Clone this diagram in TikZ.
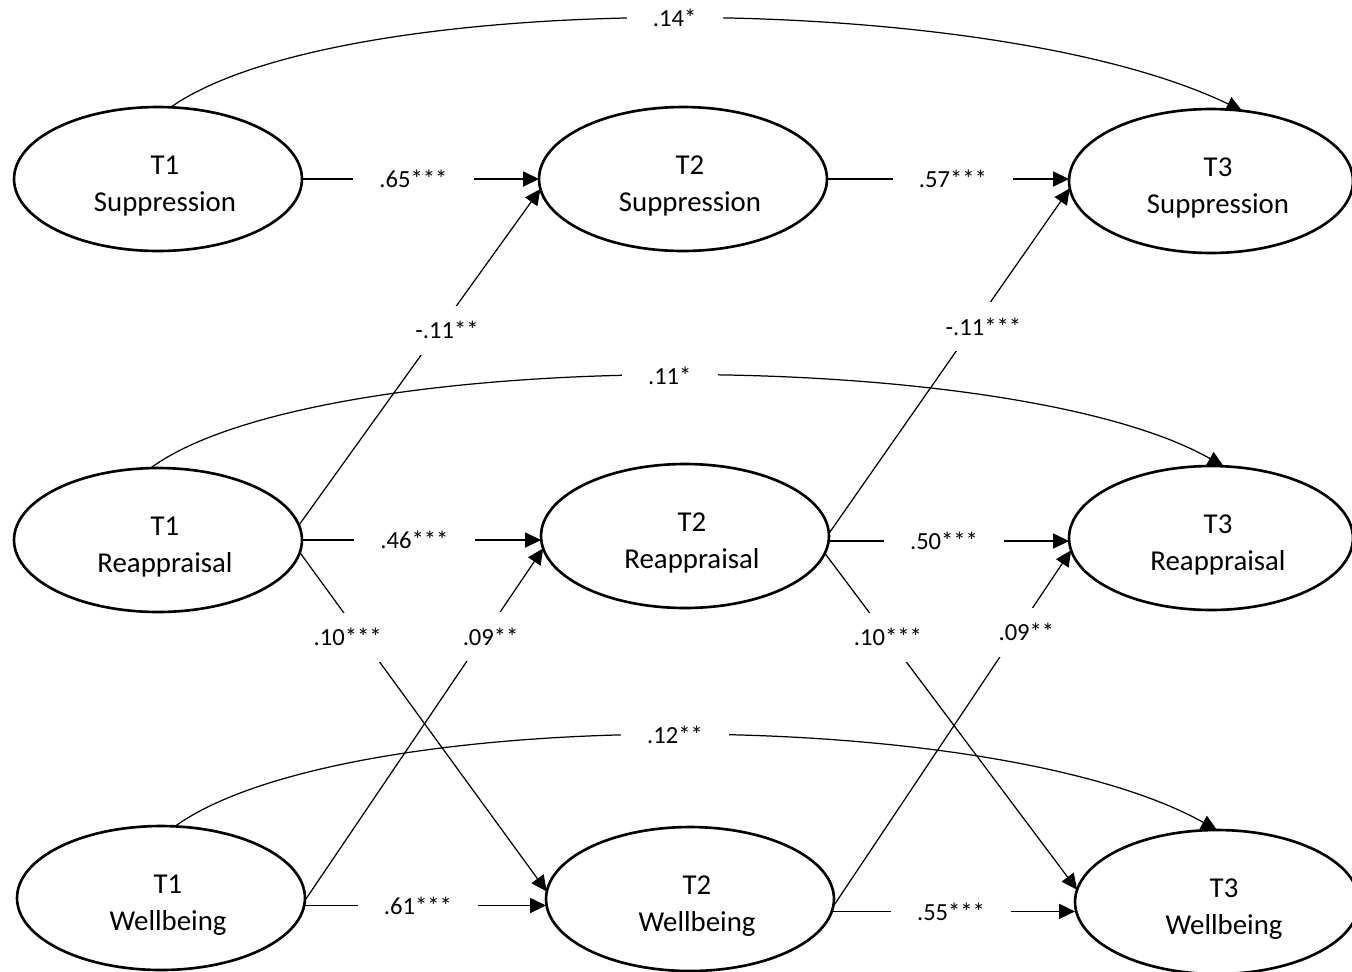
\documentclass[tikz,border=0pt]{standalone}
\usepackage{fontspec}
\setmainfont{Carlito}
\usetikzlibrary{arrows.meta,shapes.geometric}
\newcommand\twoline[2]{\hspace*{8pt}\raisebox{-8pt}[0pt][0pt]{\begin{tabular}{@{}c@{}}#1\\#2\end{tabular}}}
\tikzset{
  lat/.style={ellipse, draw, line width=1.5pt, minimum width=5.76cm, minimum height=2.88cm,
    inner sep=0pt, outer sep=0pt, font=\fontsize{16.4}{21}\selectfont},
  latc/.style={lat, minimum width=5.68cm},
  conn/.style={line width=0.7pt, -{Triangle[length=9pt,width=8.5pt]}},
  coef/.style={fill=white, font=\fontsize{14}{16}\selectfont, inner xsep=15pt, inner ysep=9pt}
}
\begin{document}
\begin{tikzpicture}[x=0.02cm, y=-0.02cm]
\useasboundingbox (0,0) rectangle (1352,971);
% latent variables
\node[lat]  (s1) at (158,179) {\twoline{T1}{Suppression}};
\node[lat]  (s2) at (683,179) {\twoline{T2}{Suppression}};
\node[latc] (s3) at (1211,181) {\twoline{T3}{Suppression}};
\node[lat]  (r1) at (158,540) {\twoline{T1}{Reappraisal}};
\node[lat]  (r2) at (685,536) {\twoline{T2}{Reappraisal}};
\node[latc] (r3) at (1211,538) {\twoline{T3}{Reappraisal}};
\node[lat]  (w1) at (161,898) {\twoline{T1}{Wellbeing}};
\node[lat]  (w2) at (690,899) {\twoline{T2}{Wellbeing}};
\node[latc] (w3) at (1217,902) {\twoline{T3}{Wellbeing}};
% T1 -> T3 curved paths
\draw[conn] (s1.80) .. controls (340,-12) and (988,-12) .. (s3.66) node[coef,pos=0.5] {.14*};
\draw[conn] (r1.96) .. controls (318,345) and (1010,345) .. (r3.80) node[coef,pos=0.5] {.11*};
\draw[conn] (w1.79) .. controls (345,704) and (991,704) .. (w3.90) node[coef,pos=0.5] {.12**};
% autoregressive paths
\draw[conn] (s1.east) -- (s2.west |- s1.east) node[coef,pos=0.47] {.65***};
\draw[conn] (s2.east) -- (s3.west |- s2.east) node[coef,pos=0.52] {.57***};
\draw[conn] (r1.east) -- (r2.west |- r1.east) node[coef,pos=0.47] {.46***};
\draw[conn] (r2.-2) -- (r3.west |- r2.-2) node[coef,pos=0.48] {.50***};
\draw[conn] (w1.-3) -- (w2.west |- w1.-3) node[coef,pos=0.47] {.61***};
\draw[conn] (w2.-5) -- (w3.west |- w2.-5) node[coef,pos=0.49] {.55***};
% cross-lagged paths
\draw[conn] (r1.6) -- (s2.184) node[coef,pos=0.58,xshift=0.16cm] {-.11**};
\draw[conn] (r2.1) -- (s3.183) node[coef,pos=0.6,xshift=0.2cm] {-.11***};
\draw[conn] (r1.-5) -- (w2.177) node[coef,pos=0.25,xshift=-0.28cm] {.10***};
\draw[conn] (w1.-1) -- (r2.185) node[coef,pos=0.75,xshift=0.14cm] {.09**};
\draw[conn] (r2.-7) -- (w3.175) node[coef,pos=0.25] {.10***};
\draw[conn] (w2.-3) -- (r3.185) node[coef,pos=0.77,xshift=0.2cm] {.09**};
\end{tikzpicture}
\end{document}
